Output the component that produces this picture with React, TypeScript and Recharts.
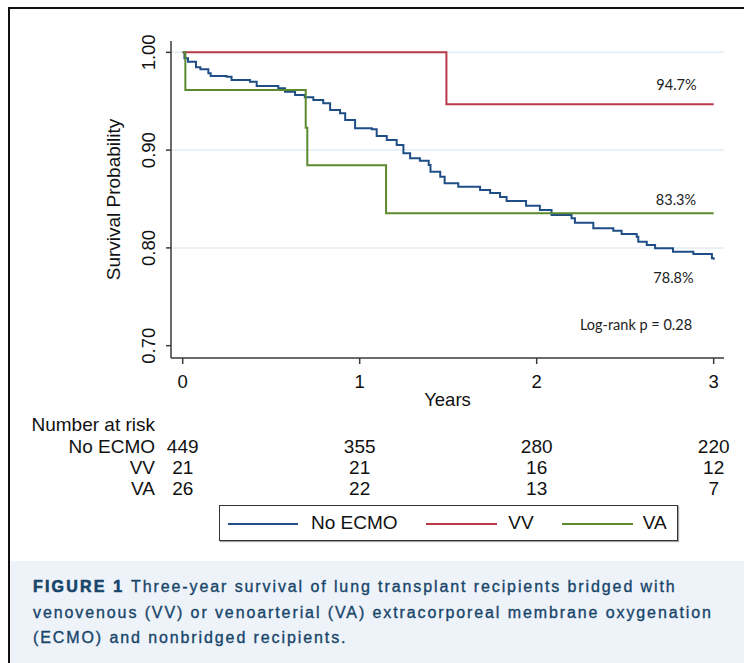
import React from 'react';
import { LineChart, Line, XAxis, YAxis, ReferenceLine } from 'recharts';

// ---- data ----
const noEcmoTime = [0, 0.01, 0.03, 0.075, 0.10, 0.145, 0.158, 0.248, 0.276, 0.38, 0.418, 0.54, 0.578, 0.635, 0.69, 0.738, 0.794, 0.833, 0.889, 0.918, 0.974, 1.068, 1.096, 1.153, 1.209, 1.247, 1.285, 1.34, 1.39, 1.40, 1.455, 1.48, 1.557, 1.68, 1.737, 1.793, 1.83, 1.94, 2.018, 2.084, 2.197, 2.216, 2.32, 2.433, 2.48, 2.565, 2.574, 2.622, 2.669, 2.77, 2.885, 2.99, 3.0];
const noEcmoSurv = [1, 0.9939, 0.9904, 0.9847, 0.9826, 0.9785, 0.9758, 0.975, 0.9717, 0.970, 0.9655, 0.9632, 0.9597, 0.9563, 0.954, 0.9512, 0.9479, 0.941, 0.9376, 0.9308, 0.9223, 0.9213, 0.9144, 0.9103, 0.9052, 0.8967, 0.8916, 0.8892, 0.8848, 0.8779, 0.8728, 0.866, 0.8626, 0.8592, 0.8561, 0.852, 0.848, 0.843, 0.8388, 0.8336, 0.8303, 0.8258, 0.82, 0.8176, 0.8142, 0.8115, 0.8063, 0.803, 0.7996, 0.7961, 0.7938, 0.7894, 0.788];
const vvTime = [0, 1.49, 3.0];
const vvSurv = [1, 0.947, 0.947];
const vaTime = [0, 0.015, 0.695, 0.704, 1.149, 3.0];
const vaSurv = [1, 0.9615, 0.923, 0.8846, 0.8354, 0.8354];

const yearTicks = [0, 1, 2, 3];
const survTicks = [0.7, 0.8, 0.9, 1.0];
const survTickLabels = ['0.70', '0.80', '0.90', '1.00'];
const gridValues = [0.8, 0.9, 1.0];

const groupNames = ['No ECMO', 'VV', 'VA'];
const noEcmoRisk = [449, 355, 280, 220];
const vvRisk = [21, 21, 16, 12];
const vaRisk = [26, 22, 13, 7];
const riskRows = [noEcmoRisk, vvRisk, vaRisk];

const endLabels = ['94.7%', '83.3%', '78.8%'];
const pValueText = 'Log-rank p = 0.28';
const captionLead = 'FIGURE 1';
const captionLines = [
  'Three-year survival of lung transplant recipients bridged with',
  'venovenous (VV) or venoarterial (VA) extracorporeal membrane oxygenation',
  '(ECMO) and nonbridged recipients.',
];

// ---- styling ----
const COLORS = ['#1f4e86', '#b83a48', '#5b8a2f'];
const FONT = '"Liberation Sans", Arial, sans-serif';

const toSeries = (ts: number[], ss: number[]) => ts.map((t, i) => ({ t, s: ss[i] }));
const seriesData = [
  toSeries(noEcmoTime, noEcmoSurv),
  toSeries(vvTime, vvSurv),
  toSeries(vaTime, vaSurv),
];

const XTick = (props: any) => {
  const { x, y, payload } = props;
  const idx = yearTicks.indexOf(payload.value);
  return (
    <g>
      <text x={x} y={y + 17} textAnchor="middle" dominantBaseline="central" fontSize={18.5} fontFamily={FONT} fill="#111">
        {payload.value}
      </text>
      {riskRows.map((row, i) => (
        <text key={i} x={x} y={y + 82 + i * 21.2} textAnchor="middle" dominantBaseline="central" fontSize={19} fontFamily={FONT} fill="#111">
          {row[idx]}
        </text>
      ))}
      {idx === 0 && (
        <g>
          <text x={31.5} y={y + 60.3} textAnchor="start" dominantBaseline="central" fontSize={19} fontFamily={FONT} fill="#111">
            Number at risk
          </text>
          {groupNames.map((g, i) => (
            <text key={g} x={155} y={y + 82 + i * 21.2} textAnchor="end" dominantBaseline="central" fontSize={19} fontFamily={FONT} fill="#111">
              {g}
            </text>
          ))}
        </g>
      )}
    </g>
  );
};

const YTick = (props: any) => {
  const { x, y, payload } = props;
  const idx = survTicks.indexOf(payload.value);
  const cx = x - 17;
  return (
    <text x={cx} y={y} transform={`rotate(-90 ${cx} ${y})`} textAnchor="middle" dominantBaseline="central" fontSize={18.5} fontFamily={FONT} fill="#111">
      {survTickLabels[idx]}
    </text>
  );
};

const Note = ({ cx, cy, children }: any) => (
  <div style={{ position: 'absolute', left: cx, top: cy, transform: 'translate(-50%, -50%)', whiteSpace: 'nowrap', fontFamily: 'Lato, "Open Sans", sans-serif', fontSize: 14.5, color: '#222', lineHeight: 1 }}>
    {children}
  </div>
);

export default function App() {
  return (
    <div style={{ position: 'absolute', left: 0, top: 0, width: 744, height: 663, overflow: 'hidden', background: '#fff' }}>
      {/* outer frame */}
      <div style={{ position: 'absolute', left: 8, top: 7, width: 800, height: 700, borderTop: '2px solid #111', borderLeft: '2px solid #111' }} />
      <div style={{ position: 'absolute', left: 0, top: 0 }}>
        <LineChart width={744} height={663} margin={{ top: 41, right: 20, left: 55, bottom: 255 }}>
          <XAxis
            type="number"
            dataKey="t"
            domain={[-0.0661, 3.0583]}
            ticks={yearTicks}
            allowDataOverflow
            height={50}
            tickSize={6}
            tickMargin={0}
            tick={<XTick />}
            axisLine={{ stroke: '#3a3a3a', strokeWidth: 1.5 }}
            tickLine={{ stroke: '#3a3a3a', strokeWidth: 1.5 }}
            label={{ value: 'Years', position: 'insideBottom', offset: 2, style: { fontSize: 18.5, fontFamily: FONT, fill: '#111' } }}
          />
          <YAxis
            type="number"
            domain={[0.6874, 1.0116]}
            ticks={survTicks}
            allowDataOverflow
            width={116}
            tickSize={5}
            tickMargin={0}
            tick={<YTick />}
            axisLine={{ stroke: '#3a3a3a', strokeWidth: 1.5 }}
            tickLine={{ stroke: '#3a3a3a', strokeWidth: 1.5 }}
            label={{ value: 'Survival Probability', angle: -90, position: 'center', style: { fontSize: 19, fontFamily: FONT, fill: '#111' } }}
          />
          {gridValues.map((v) => (
            <ReferenceLine key={v} y={v} stroke="#e2ecf4" strokeWidth={1.5} />
          ))}
          {seriesData.map((d, i) => (
            <Line
              key={groupNames[i]}
              data={d}
              dataKey="s"
              name={groupNames[i]}
              type="stepAfter"
              stroke={COLORS[i]}
              strokeWidth={2}
              dot={false}
              activeDot={false}
              isAnimationActive={false}
            />
          ))}
        </LineChart>
      </div>

      {/* annotations */}
      <Note cx={676.5} cy={85}>{endLabels[0]}</Note>
      <Note cx={676} cy={200}>{endLabels[1]}</Note>
      <Note cx={673.5} cy={277.5}>{endLabels[2]}</Note>
      <Note cx={636} cy={325}>{pValueText}</Note>

      {/* legend */}
      <div style={{ position: 'absolute', left: 219, top: 505, width: 457, height: 34, border: '1px solid #333', boxShadow: '1px 1px 1px rgba(0,0,0,0.35)', background: '#fff' }}>
        {[
          { x1: 7.5, x2: 77.5, tx: 91 },
          { x1: 206, x2: 277, tx: 288.3 },
          { x1: 341.7, x2: 412.7, tx: 422.7 },
        ].map((p, i) => (
          <React.Fragment key={i}>
            <div style={{ position: 'absolute', left: p.x1, top: 16.5, width: p.x2 - p.x1, height: 2, backgroundColor: COLORS[i] }} />
            <div style={{ position: 'absolute', left: p.tx, top: 7, fontFamily: FONT, fontSize: 19, lineHeight: '20px', color: '#111', whiteSpace: 'nowrap' }}>
              {groupNames[i]}
            </div>
          </React.Fragment>
        ))}
      </div>

      {/* caption */}
      <div style={{ position: 'absolute', left: 10, top: 561, width: 734, height: 102, background: '#eef3f9' }} />
      {captionLines.map((line, i) => (
        <div key={i} style={{ position: 'absolute', left: 33, top: 587.3 + i * 25.5 - 10, height: 20, lineHeight: '20px', fontFamily: FONT, fontSize: 16, letterSpacing: 1.9, color: '#17456a', WebkitTextStroke: '0.35px #17456a', whiteSpace: 'nowrap' }}>
          {i === 0 && <span style={{ fontWeight: 700, letterSpacing: 2.2, WebkitTextStroke: '0.6px #17456a' }}>{captionLead} </span>}
          {line}
        </div>
      ))}
    </div>
  );
}
